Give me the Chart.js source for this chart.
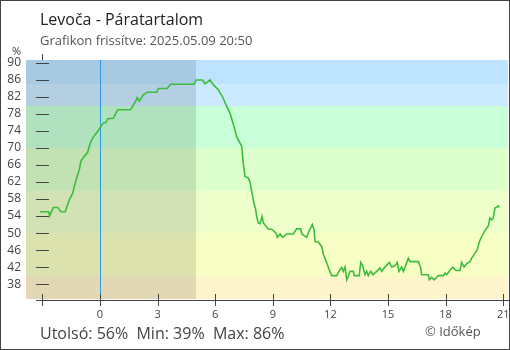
<!DOCTYPE html>
<html>
<head>
<meta charset="utf-8">
<script src="https://cdn.jsdelivr.net/npm/chart.js@4.4.0/dist/chart.umd.min.js"></script>
<style>
  html, body { margin: 0; padding: 0; background: #fff; }
  canvas { display: block; }
</style>
</head>
<body>
<canvas id="paraChart" width="510" height="350"></canvas>
<script>
// hours relative to midnight (negative = previous evening)
const hours = [
  -3.13, -2.67, -2.63, -2.43, -2.20, -2.03, -1.81, -1.68, -1.60, -1.42,
  -1.34, -1.21, -1.08, -0.99, -0.82, -0.64, -0.56, -0.47, -0.30, -0.12,
  0, 0.17, 0.31, 0.40, 0.69, 0.83, 0.92, 1.59, 1.82, 1.94,
  2.05, 2.26, 2.46, 2.95, 3.04, 3.50, 3.68, 4.90, 5.00, 5.35,
  5.47, 5.73, 5.90, 6.16, 6.39, 6.56, 6.77, 6.98, 7.12, 7.38,
  7.46, 7.55, 7.72, 7.81, 7.90, 8.02, 8.11, 8.16, 8.24, 8.33,
  8.44, 8.51, 8.65, 8.77, 8.94, 9.17, 9.24, 9.38, 9.52, 9.72,
  10.07, 10.24, 10.45, 10.51, 10.76, 10.94, 11.06, 11.15, 11.20, 11.37,
  11.55, 11.63, 11.80, 11.94, 12.06, 12.33, 12.50, 12.59, 12.67, 12.76,
  12.85, 12.93, 13.02, 13.19, 13.24, 13.50, 13.58, 13.68, 13.80, 13.89,
  13.97, 14.11, 14.22, 14.41, 14.58, 14.67, 14.84, 15.07, 15.19, 15.36,
  15.48, 15.57, 15.71, 15.80, 15.89, 16.06, 16.15, 16.58, 16.70, 16.75,
  17.10, 17.15, 17.27, 17.41, 17.54, 17.62, 17.88, 17.97, 18.05, 18.19,
  18.37, 18.54, 18.75, 18.84, 18.96, 19.10, 19.27, 19.36, 19.53, 19.65,
  19.76, 19.88, 20.02, 20.14, 20.22, 20.31, 20.40, 20.48, 20.57, 20.66,
  20.74, 20.80
];

// relative humidity, %
const humidity = [
  55, 55, 54, 56, 56, 55, 55, 56.7, 57.8, 59.4,
  61, 63, 64.9, 67, 68, 69, 70.4, 71.6, 72.9, 73.9,
  74.7, 75.9, 76, 76.9, 77, 78.2, 79, 79, 80.7, 81.9,
  81, 82.5, 83.1, 83.1, 84, 84, 85, 85, 86, 86,
  85.1, 86, 84.9, 83.7, 82, 80.2, 78.2, 75.1, 72.6, 70.4,
  66.5, 63.3, 63, 62.1, 59.8, 57, 55.5, 53.9, 52.4, 52.2,
  53.9, 52.4, 51.6, 50.9, 50.9, 50, 49, 49.8, 49, 49.8,
  49.8, 51, 51, 49.8, 49, 51, 52, 50.8, 48, 47.9,
  46.8, 45.1, 43.1, 41.4, 40, 40, 41.4, 41.9, 41, 42,
  39, 39.8, 41, 41, 40, 40, 43.1, 42.3, 40.2, 41,
  40, 41, 40.2, 41, 41.8, 41, 42, 43.1, 42, 42.3,
  43.1, 41, 42, 41, 42, 44.1, 43.3, 43.3, 41.8, 40.2,
  40.2, 39, 39.6, 39, 39.6, 40, 40, 40.6, 40.2, 41,
  42, 41.2, 41.2, 43.1, 42, 42.8, 43.3, 44.1, 45.3, 46.1,
  48, 49.2, 50.4, 51.2, 51.6, 53.5, 53.1, 53.5, 55.9, 56.1,
  56.4, 56
];

const xTicks = [-3, 0, 3, 6, 9, 12, 15, 18, 21];
const yTicks = [38, 42, 46, 50, 54, 58, 62, 66, 70, 74, 78, 82, 86, 90];

// humidity bands, bottom to top
const bandLimits = [40, 50, 60, 70, 80, 85];
const bandColors = ['#fff5cc', '#f8ffc4', '#eeffcc', '#ddffcc', '#c8ffd8', '#cbeaff', '#bde3ff'];

const midnight = 0;
const nightEnd = 5;

const stationName = 'Levoča';
const updated = '2025.05.09 20:50';

const lastValue = humidity[humidity.length - 1];
const minValue = Math.min(...humidity);
const maxValue = Math.max(...humidity);

const FONT = '"Open Sans", "Noto Sans", sans-serif';

const backdrop = {
  id: 'backdrop',
  beforeDatasetsDraw(chart) {
    const { ctx, chartArea: a, scales: { x, y } } = chart;
    const w = a.right - a.left;
    ctx.save();

    let lower = y.min;
    bandColors.forEach((c, i) => {
      const upper = i < bandLimits.length ? bandLimits[i] : y.max;
      const top = Math.round(y.getPixelForValue(upper));
      const bottom = Math.round(y.getPixelForValue(lower));
      ctx.fillStyle = c;
      ctx.fillRect(a.left, top, w, bottom - top);
      lower = upper;
    });

    // night shading
    const nx = Math.round(x.getPixelForValue(nightEnd));
    ctx.fillStyle = 'rgba(0, 0, 0, 0.115)';
    ctx.fillRect(a.left, a.top, nx - a.left, a.bottom - a.top);

    // midnight marker
    const mx = Math.round(x.getPixelForValue(midnight)) + 0.5;
    ctx.strokeStyle = '#2b9be3';
    ctx.lineWidth = 1;
    ctx.beginPath();
    ctx.moveTo(mx, a.top);
    ctx.lineTo(mx, a.bottom + 1);
    ctx.stroke();

    // y tick dashes sit on the first x tick
    const ax = Math.round(x.getPixelForValue(xTicks[0]));
    ctx.strokeStyle = '#444';
    ctx.beginPath();
    yTicks.forEach(v => {
      const py = Math.round(y.getPixelForValue(v)) + 0.5;
      ctx.moveTo(ax - 6, py);
      ctx.lineTo(ax + 7, py);
    });
    ctx.stroke();
    ctx.restore();
  },
  afterDraw(chart) {
    const { ctx, chartArea: a, scales: { x } } = chart;
    const ax = Math.round(x.getPixelForValue(xTicks[0])) + 0.5;
    const axisY = a.bottom + 1.5;
    ctx.save();
    ctx.strokeStyle = '#444';
    ctx.lineWidth = 1;
    ctx.beginPath();
    ctx.moveTo(ax - 6.5, axisY);
    ctx.lineTo(chart.width, axisY);
    xTicks.forEach(v => {
      const px = Math.round(x.getPixelForValue(v)) + 0.5;
      ctx.moveTo(px, axisY - 6.5);
      ctx.lineTo(px, axisY + 5.5);
    });
    ctx.moveTo(ax, a.top - 6);
    ctx.lineTo(ax, a.top);
    ctx.stroke();

    // frame
    ctx.strokeStyle = '#444';
    ctx.strokeRect(0.5, 0.5, chart.width - 1, chart.height - 1);

    ctx.textBaseline = 'alphabetic';
    ctx.textAlign = 'left';
    ctx.fillStyle = '#222';
    ctx.font = '16px ' + FONT;
    ctx.fillText(stationName + ' - Páratartalom', 40, 25);

    ctx.fillStyle = '#555';
    ctx.font = '13px ' + FONT;
    ctx.fillText('Grafikon frissítve: ' + updated, 40, 45);

    ctx.fillStyle = '#444';
    ctx.font = '11px ' + FONT;
    ctx.fillText('%', 12, 55);

    ctx.fillStyle = '#444';
    ctx.font = '16px ' + FONT;
    ctx.fillText('Utolsó: ' + lastValue + '%  Min: ' + minValue + '%  Max: ' + maxValue + '%', 40, 339);

    ctx.fillStyle = '#555';
    ctx.font = '13px ' + FONT;
    ctx.fillText('© Időkép', 425, 336);
    ctx.restore();
  }
};

new Chart(document.getElementById('paraChart'), {
  type: 'line',
  data: {
    datasets: [{
      data: hours.map((h, i) => ({ x: h, y: humidity[i] })),
      borderColor: '#3dbd3d',
      borderWidth: 1.6,
      pointRadius: 0,
      tension: 0,
      fill: false
    }]
  },
  options: {
    responsive: false,
    animation: false,
    events: [],
    layout: { padding: { top: 60, right: 2, left: 0, bottom: 0 } },
    plugins: {
      legend: { display: false },
      tooltip: { enabled: false }
    },
    scales: {
      x: {
        type: 'linear',
        min: -3.854,
        max: 21.25,
        grid: { display: false, drawTicks: false },
        border: { display: false },
        afterBuildTicks: s => { s.ticks = xTicks.map(v => ({ value: v })); },
        afterFit: s => { s.height = 51; s.paddingLeft = 0; s.paddingRight = 0; },
        ticks: {
          padding: 9,
          autoSkip: false,
          maxRotation: 0,
          color: '#444',
          font: { family: FONT, size: 11 },
          callback: v => (v < 0 ? '' : String(v))
        }
      },
      y: {
        min: 34.5,
        max: 90.7,
        grid: { display: false, drawTicks: false },
        border: { display: false },
        afterBuildTicks: s => { s.ticks = yTicks.map(v => ({ value: v })); },
        afterFit: s => { s.width = 26; s.paddingTop = 0; s.paddingBottom = 0; },
        ticks: {
          padding: 5,
          color: '#444',
          font: { family: FONT, size: 12 }
        }
      }
    }
  },
  plugins: [backdrop]
});
</script>
</body>
</html>
